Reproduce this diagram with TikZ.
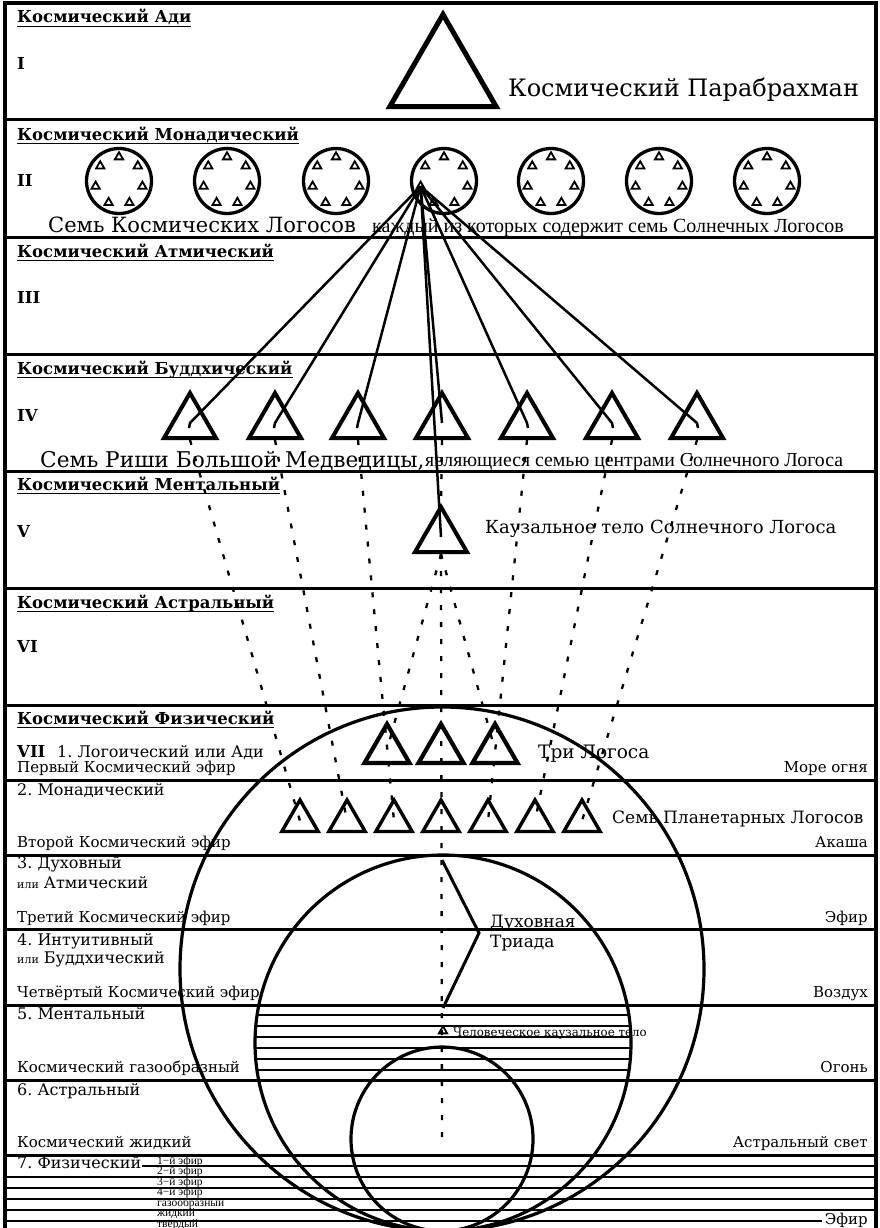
\documentclass[tikz,border=0pt]{standalone}
\usepackage{fontspec}
\setmainfont{DejaVu Serif}
\newfontfamily\tms{Liberation Serif}
\usetikzlibrary{shapes.geometric, calc}
\newcommand{\fs}[1]{\fontsize{#1}{#1}\selectfont}

\begin{document}
\begin{tikzpicture}
    [
        x=1pt, y=-1pt,
        frame/.style = {line width=4pt},
        planeline/.style = {line width=3pt},
        hatchline/.style = {line width=1.5pt},
        sphere/.style = {line width=3.2pt},
        uline/.style = {line width=1.5pt},
        ray/.style = {line width=2.5pt},
        dotline/.style = {line width=2.3pt, dash pattern=on 5pt off 12pt},
        heading/.style = {anchor=base west, inner sep=0pt, font=\fs{16.5}\bfseries},
        numeral/.style = {anchor=base west, inner sep=0pt, font=\fs{16.5}\bfseries},
        bigtext/.style = {anchor=base west, inner sep=0pt, font=\fs{21}},
        smalltext/.style = {anchor=base west, inner sep=0pt, font=\tms\fs{20}},
        sublabel/.style = {anchor=base west, inner sep=0pt, font=\fs{16}},
        ether/.style = {anchor=base west, inner sep=0pt, font=\fs{15}},
        rlabel/.style = {anchor=base east, inner sep=0pt, font=\fs{15}},
        tiny/.style = {anchor=base west, inner sep=0pt, font=\tms\fs{11.5}},
        toptri/.style = {draw, regular polygon, regular polygon sides=3, minimum size=123pt, inner sep=0pt, line width=5pt},
        bigtri/.style = {draw, regular polygon, regular polygon sides=3, minimum size=60pt, inner sep=0pt, line width=4pt},
        logtri/.style = {draw, regular polygon, regular polygon sides=3, minimum size=52pt, inner sep=0pt, line width=4.2pt},
        plantri/.style = {draw, regular polygon, regular polygon sides=3, minimum size=42pt, inner sep=0pt, line width=3.4pt},
        smalltri/.style = {draw, regular polygon, regular polygon sides=3, minimum size=9.5pt, inner sep=0pt, line width=1.8pt},
        logcircle/.style = {draw, circle, minimum size=65pt, inner sep=0pt, line width=3.3pt},
    ]

    \useasboundingbox (0,0) rectangle (880,1228);

    % frame and planes
    \draw[frame] (5,3) rectangle (876,1240);
    \draw[planeline] (5,120) -- (876,120);
    \draw[planeline] (5,237) -- (876,237);
    \draw[planeline] (5,354) -- (876,354);
    \draw[planeline] (5,471) -- (876,471);
    \draw[planeline] (5,588) -- (876,588);
    \draw[planeline] (5,705) -- (876,705);
    \draw[planeline] (5,780) -- (876,780);
    \draw[planeline] (5,855) -- (876,855);
    \draw[planeline] (5,929) -- (876,929);
    \draw[planeline] (5,1005) -- (876,1005);
    \draw[planeline] (5,1080) -- (876,1080);
    \draw[planeline] (5,1155) -- (876,1155);

    % headings
    \node[heading] (hAdi) at (17,23)  {Космический Ади};
    \node[heading] (hMon) at (17,140) {Космический Монадический};
    \node[heading] (hAtm) at (17,257) {Космический Атмический};
    \node[heading] (hBud) at (17,374) {Космический Буддхический};
    \node[heading] (hMen) at (17,490) {Космический Ментальный};
    \node[heading] (hAst) at (17,608) {Космический Астральный};
    \node[heading] (hFiz) at (17,724) {Космический Физический};

    \draw[uline] ([yshift=-3.5pt]hAdi.base west) -- ([yshift=-3.5pt]hAdi.base east);
    \draw[uline] ([yshift=-3.5pt]hMon.base west) -- ([yshift=-3.5pt]hMon.base east);
    \draw[uline] ([yshift=-3.5pt]hAtm.base west) -- ([yshift=-3.5pt]hAtm.base east);
    \draw[uline] ([yshift=-3.5pt]hBud.base west) -- ([yshift=-3.5pt]hBud.base east);
    \draw[uline] ([yshift=-3.5pt]hMen.base west) -- ([yshift=-3.5pt]hMen.base east);
    \draw[uline] ([yshift=-3.5pt]hAst.base west) -- ([yshift=-3.5pt]hAst.base east);
    \draw[uline] ([yshift=-3.5pt]hFiz.base west) -- ([yshift=-3.5pt]hFiz.base east);

    \node[numeral] (nI)   at (17,70)  {I};
    \node[numeral] (nII)  at (17,186) {II};
    \node[numeral] (nIII) at (17,303) {III};
    \node[numeral] (nIV)  at (17,421) {IV};
    \node[numeral] (nV)   at (17,537) {V};
    \node[numeral] (nVI)  at (17,652) {VI};
    \node[numeral] (nVII) at (17,757) {VII};

    % I
    \node[toptri] (para) at (443,76) {};
    \node[bigtext, font=\fs{24}] (tPara) at (508,97) {Космический Парабрахман};

    % II
    \foreach \cx [count=\i] in {119,227,336,444,551,659,767} {
        \node[logcircle] (c\i) at (\cx,181) {};
        \foreach \k in {0,...,6}
            \node[smalltri] (c\i-\k) at ($(c\i)+(-90-\k*51.43:24)$) {};
    }
    \node[bigtext] (tKosm) at (48,232) {Семь Космических Логосов};
    \node[smalltext] (tKazh) at (372,232) {каждый из которых содержит семь Солнечных Логосов};

    % IV
    \node[bigtri] (r1) at (190,423) {};
    \node[bigtri] (r2) at (275,423) {};
    \node[bigtri] (r3) at (358,423) {};
    \node[bigtri] (r4) at (442,423) {};
    \node[bigtri] (r5) at (527,423) {};
    \node[bigtri] (r6) at (612,423) {};
    \node[bigtri] (r7) at (697,423) {};
    \node[bigtext, font=\fs{21.7}] (tRishi) at (40,467) {Семь Риши Большой Медведицы,};
    \node[smalltext, font=\tms\fs{19.8}] (tCentr) at (425,466) {являющиеся семью центрами Солнечного Логоса};

    % V
    \node[bigtri] (kaz) at (441,537) {};
    \node[bigtext, font=\fs{18}] (tKaz) at (485,533) {Каузальное тело Солнечного Логоса};

    % VII
    \node[sublabel] (s1) at (57,757)   {1.\ Логоический или Ади};
    \node[ether]    (e1) at (17,772)   {Первый Космический эфир};
    \node[rlabel]   (m1) at (868,772)  {Море огня};
    \node[sublabel] (s2) at (17,795)   {2.\ Монадический};
    \node[ether]    (e2) at (17,847)   {Второй Космический эфир};
    \node[rlabel]   (m2) at (868,847)  {Акаша};
    \node[sublabel] (s3) at (17,868)   {3.\ Духовный};
    \node[sublabel] (s3b) at (17,888)  {{\fs{11}или} Атмический};
    \node[ether]    (e3) at (17,922)   {Третий Космический эфир};
    \node[rlabel]   (m3) at (868,922)  {Эфир};
    \node[sublabel] (s4) at (17,945)   {4.\ Интуитивный};
    \node[sublabel] (s4b) at (17,963)  {{\fs{11}или} Буддхический};
    \node[ether]    (e4) at (17,997)   {Четвёртый Космический эфир};
    \node[rlabel]   (m4) at (868,997)  {Воздух};
    \node[sublabel] (s5) at (17,1019)  {5.\ Ментальный};
    \node[ether]    (e5) at (17,1072)  {Космический газообразный};
    \node[rlabel]   (m5) at (868,1072) {Огонь};
    \node[sublabel] (s6) at (17,1095)  {6.\ Астральный};
    \node[ether]    (e6) at (17,1147)  {Космический жидкий};
    \node[rlabel]   (m6) at (868,1147) {Астральный свет};
    \node[sublabel] (s7) at (17,1168)  {7.\ Физический};

    % physical subplanes
    \draw[hatchline] (142,1166) -- (876,1166);
    \draw[hatchline] (5,1177) -- (876,1177);
    \draw[hatchline] (5,1188) -- (876,1188);
    \draw[hatchline] (5,1199) -- (876,1199);
    \draw[hatchline] (5,1210) -- (876,1210);
    \draw[hatchline] (5,1221) -- (822,1221);
    \node[rlabel] (mEf) at (868,1224) {Эфир};
    \node[tiny] (f1) at (157,1164)   {1−й эфир};
    \node[tiny] (f2) at (157,1174.5) {2−й эфир};
    \node[tiny] (f3) at (157,1185)   {3−й эфир};
    \node[tiny] (f4) at (157,1195.5) {4−й эфир};
    \node[tiny] (f5) at (157,1206)   {газообразный};
    \node[tiny] (f6) at (157,1216.5) {жидкий};
    \node[tiny] (f7) at (157,1227)   {твёрдый};

    % three Logoi and seven planetary Logoi
    \node[logtri] (l1) at (387,750) {};
    \node[logtri] (l2) at (441,750) {};
    \node[logtri] (l3) at (495,750) {};
    \node[bigtext, font=\fs{18.5}] (tTri) at (538,758) {Три Логоса};

    \node[plantri] (p1) at (300,821) {};
    \node[plantri] (p2) at (347,821) {};
    \node[plantri] (p3) at (394,821) {};
    \node[plantri] (p4) at (441,821) {};
    \node[plantri] (p5) at (488,821) {};
    \node[plantri] (p6) at (535,821) {};
    \node[plantri] (p7) at (582,821) {};
    \node[bigtext, font=\fs{17}] (tPlan) at (612,823) {Семь Планетарных Логосов};

    % level 5 hatch
    \begin{scope}
        \clip (443,1043) circle (188);
        \draw[hatchline] (240,1015) -- (650,1015);
        \draw[hatchline] (240,1026) -- (650,1026);
        \draw[hatchline] (240,1037) -- (650,1037);
        \draw[hatchline] (240,1048) -- (650,1048);
        \draw[hatchline] (240,1059) -- (650,1059);
        \draw[hatchline] (240,1070) -- (650,1070);
    \end{scope}
    \node[smalltri] (hct) at (443,1031) {};
    \node[bigtext, font=\fs{11.8}] (tHct) at (453,1036) {Человеческое каузальное тело};

    % spiritual triad
    \coordinate (tdA) at (442,860);
    \coordinate (tdB) at (479,933);
    \coordinate (tdC) at (443,1008);
    \draw[ray, line width=3pt] (tdA) -- (tdB) -- (tdC);
    \node[bigtext, font=\fs{17}] (tDuh) at (490,927) {Духовная};
    \node[bigtext, font=\fs{17}] (tTriad) at (490,947) {Триада};

    % rays from the fourth Cosmic Logos
    \draw[ray] (c4-2.center) -- (r1.center) -- ++(-1,5);
    \draw[ray] (c4-2.center) -- (r2.center) -- ++(-1,5);
    \draw[ray] (c4-2.center) -- (r3.center) -- ++(-1,5);
    \draw[ray] (c4-2.center) -- (r4.center);
    \draw[ray] (c4-2.center) -- (kaz.center);
    \draw[ray] (c4-2.center) -- (r5.center) -- ++(1,5);
    \draw[ray] (c4-2.center) -- (r6.center) -- ++(1,5);
    \draw[ray] (c4-2.center) -- (r7.center) -- ++(1,5);

    % dotted descent
    \coordinate (dotEnd) at (442,1148);
    \draw[dotline] (r1.south) -- (p1.center);
    \draw[dotline] (r2.south) -- (p2.center);
    \draw[dotline] (r3.south) -- (p3.center);
    \draw[dotline] (r4.south) -- (kaz.north);
    \draw[dotline] (r5.south) -- (p5.center);
    \draw[dotline] (r6.south) -- (p6.center);
    \draw[dotline] (r7.south) -- (p7.center);
    \draw[dotline] (kaz.south) -- (l1.center);
    \draw[dotline] (kaz.south) -- (l3.center);
    \draw[dotline] (kaz.south) -- (dotEnd);

    % spheres
    \draw[sphere] (442,969) circle (262);
    \draw[sphere] (443,1043) circle (188);
    \draw[sphere] (442,1139) ellipse (91 and 92);

\end{tikzpicture}
\end{document}
